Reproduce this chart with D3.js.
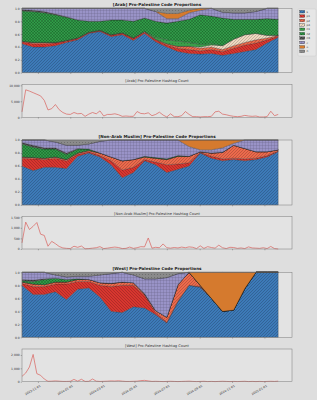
<!DOCTYPE html>
<html>
<head>
<meta charset="utf-8">
<script src="https://cdn.jsdelivr.net/npm/d3@7"></script>
<style>
  body { margin: 0; background: #dedede; }
  text { font-family: "DejaVu Sans", sans-serif; }
</style>
</head>
<body>
<script>
// weekly dates for the hashtag counts
const weeks = ["2023-10-02","2023-10-09","2023-10-16","2023-10-23","2023-10-30","2023-11-06","2023-11-13","2023-11-20","2023-11-27",
  "2023-12-04","2023-12-11","2023-12-18","2023-12-25","2024-01-01","2024-01-08","2024-01-15","2024-01-22","2024-01-29",
  "2024-02-05","2024-02-12","2024-02-19","2024-02-26","2024-03-04","2024-03-11","2024-03-18","2024-03-25","2024-04-01",
  "2024-04-08","2024-04-15","2024-04-22","2024-04-29","2024-05-06","2024-05-13","2024-05-20","2024-05-27","2024-06-03",
  "2024-06-10","2024-06-17","2024-06-24","2024-07-01","2024-07-08","2024-07-15","2024-07-22","2024-07-29","2024-08-05",
  "2024-08-12","2024-08-19","2024-08-26","2024-09-02","2024-09-09","2024-09-16","2024-09-23","2024-09-30","2024-10-07",
  "2024-10-14","2024-10-21","2024-10-28","2024-11-04","2024-11-11","2024-11-18","2024-11-25","2024-12-02","2024-12-09",
  "2024-12-16","2024-12-23","2024-12-30","2025-01-06","2025-01-13","2025-01-20","2025-01-27"];

// dates for the code proportions (every 3rd week)
const propWeeks = ["2023-10-02","2023-10-23","2023-11-13","2023-12-04","2023-12-25","2024-01-15","2024-02-05","2024-02-26",
  "2024-03-18","2024-04-08","2024-04-29","2024-05-20","2024-06-10","2024-07-01","2024-07-22","2024-08-12","2024-09-02",
  "2024-09-23","2024-10-14","2024-11-04","2024-11-25","2024-12-16","2025-01-06","2025-01-27"];

const codes = ["s", "p1", "p2", "p4", "n1", "n2", "n3", "c", "o", "n"];

// proportions, one row per code (same order as codes)
const arabProps = [
  [0.45,0.40,0.40,0.42,0.47,0.51,0.61,0.64,0.56,0.59,0.50,0.61,0.48,0.40,0.33,0.30,0.29,0.30,0.27,0.30,0.33,0.36,0.46,0.55],
  [0.03,0.05,0.05,0.04,0.02,0.02,0.01,0.01,0.02,0.02,0.03,0.02,0.03,0.03,0.05,0.06,0.05,0.06,0.06,0.08,0.10,0.10,0.05,0.02],
  [0.01,0.02,0.02,0.01,0.01,0.01,0.01,0.01,0.01,0.01,0.01,0.01,0.01,0.02,0.03,0.05,0.04,0.04,0.03,0.04,0.04,0.05,0.03,0.01],
  [0,0,0,0,0,0,0,0,0,0,0,0,0,0,0,0,0.02,0.03,0.06,0.10,0.12,0.10,0.04,0],
  [0,0,0,0,0,0,0,0,0,0,0,0,0.03,0.06,0.08,0.06,0.04,0.02,0,0,0,0,0,0],
  [0.47,0.48,0.46,0.43,0.36,0.28,0.17,0.14,0.23,0.20,0.26,0.21,0.25,0.26,0.31,0.36,0.46,0.43,0.43,0.31,0.24,0.22,0.26,0.25],
  [0.02,0.02,0.02,0.01,0.01,0,0,0,0,0,0,0,0,0,0,0,0,0,0,0,0,0,0,0],
  [0.02,0.03,0.05,0.09,0.13,0.18,0.20,0.20,0.18,0.18,0.20,0.15,0.15,0.07,0.04,0.10,0.07,0.12,0.09,0.10,0.10,0.12,0.16,0.17],
  [0,0,0,0,0,0,0,0,0,0,0,0,0,0.08,0.08,0.04,0.03,0,0,0,0,0,0,0],
  [0,0,0,0,0,0,0,0,0,0,0,0,0.05,0.08,0.08,0.03,0,0,0.06,0.07,0.07,0.05,0,0]
];

const namProps = [
  [0.60,0.53,0.58,0.58,0.56,0.75,0.80,0.74,0.62,0.42,0.50,0.68,0.62,0.50,0.55,0.60,0.80,0.72,0.68,0.70,0.68,0.70,0.74,0.82],
  [0.12,0.18,0.12,0.14,0.12,0.03,0.02,0.02,0.06,0.12,0.08,0.02,0.04,0.12,0.08,0.05,0.01,0.03,0.03,0.02,0.03,0.02,0.02,0.01],
  [0.02,0.02,0.02,0.02,0.02,0.02,0.02,0.04,0.06,0.14,0.12,0.04,0.06,0.08,0.12,0.10,0.01,0.05,0.10,0.20,0.16,0.10,0.06,0.02],
  [0,0,0,0,0,0,0,0,0,0,0,0,0,0,0,0,0,0,0,0,0,0,0,0],
  [0,0,0,0,0,0,0,0,0,0,0,0,0,0,0,0,0,0,0,0,0,0,0,0],
  [0.20,0.16,0.14,0.12,0.08,0.06,0.02,0,0,0,0,0.01,0.01,0.01,0.01,0,0,0,0,0,0,0,0,0],
  [0.02,0.03,0.02,0.02,0.02,0.01,0,0,0,0,0,0,0,0,0,0,0,0,0,0,0,0,0,0],
  [0.04,0.08,0.12,0.09,0.12,0.05,0.08,0.18,0.26,0.32,0.30,0.25,0.27,0.29,0.24,0.15,0.03,0.05,0.07,0.03,0.13,0.18,0.18,0.15],
  [0,0,0,0,0,0,0,0,0,0,0,0,0,0,0,0.10,0.15,0.15,0.12,0.05,0,0,0,0],
  [0,0,0,0.03,0.08,0.08,0.06,0.02,0,0,0,0,0,0,0,0,0,0,0,0,0,0,0,0]
];

const westProps = [
  [0.80,0.66,0.66,0.70,0.58,0.74,0.76,0.62,0.40,0.38,0.47,0.45,0.35,0.22,0.55,0.80,0.77,0.60,0.40,0.42,0.75,1.00,1.00,1.00],
  [0.03,0.12,0.12,0.12,0.24,0.12,0.10,0.18,0.38,0.42,0.33,0.20,0.03,0.01,0.01,0,0.01,0,0,0,0,0,0,0],
  [0.02,0.04,0.03,0.03,0.03,0.03,0.03,0.04,0.05,0.05,0.04,0.02,0.03,0.08,0.25,0.20,0.02,0,0,0,0,0,0,0],
  [0,0,0,0,0,0,0,0,0,0,0,0,0,0,0,0,0,0,0,0,0,0,0,0],
  [0,0,0,0,0,0,0,0,0,0,0,0,0,0,0,0,0,0,0,0,0,0,0,0],
  [0.02,0.04,0.08,0.06,0.04,0.01,0,0,0,0,0,0,0,0,0,0,0,0,0,0,0,0,0,0],
  [0.02,0.02,0.01,0,0,0,0,0,0,0,0,0,0,0,0,0,0,0,0,0,0,0,0,0],
  [0.11,0.12,0.10,0.05,0.04,0.04,0.05,0.12,0.15,0.15,0.12,0.23,0.49,0.61,0.17,0,0,0,0,0,0,0,0,0],
  [0,0,0,0,0,0,0,0,0,0,0,0,0,0,0,0,0.20,0.40,0.60,0.58,0.25,0,0,0],
  [0,0,0,0.04,0.07,0.06,0.06,0.04,0.02,0,0.04,0.10,0.10,0.08,0.02,0,0,0,0,0,0,0,0,0]
];

// weekly hashtag counts
const arabCounts = [1700,8600,8200,7700,7200,6700,5300,2300,2700,4000,2400,1500,1000,900,1500,1100,1200,300,1000,1500,
  1100,2000,400,900,900,1100,800,300,400,300,300,1800,1200,1100,1400,500,900,1600,700,100,1100,200,200,500,1800,900,
  200,200,100,200,200,300,1700,1900,1000,800,500,300,200,300,600,400,300,400,100,100,200,1900,500,900];
const namCounts = [290,1270,920,1070,1250,700,640,130,360,250,120,50,30,20,130,80,140,10,20,40,60,110,20,40,70,90,70,
  20,30,90,30,60,110,100,520,40,80,60,240,60,40,70,50,90,60,100,80,20,150,30,110,70,40,180,60,20,80,70,30,50,20,100,
  50,40,30,60,20,120,20,0];
const westCounts = [400,650,1100,2040,600,480,200,30,40,60,40,20,20,30,170,40,180,20,30,200,40,20,30,40,60,50,70,40,20,
  20,30,40,80,100,60,20,30,20,10,20,30,20,10,20,30,40,20,10,20,30,10,20,10,20,30,20,10,20,10,20,30,10,20,10,20,10,
  20,30,20,40];

const groups = ["Arab", "Non-Arab Muslim", "West"];

// styles per code
const codeFill = {s: "#3d7ab8", p1: "#d8362f", p2: "#ec6a4c", p4: "#eed8c0", n1: "#3a9f4a",
  n2: "#2f9a47", n3: "#555555", c: "#9b95c9", o: "#ec8733", n: "#8b8b8b"};
const codeHatch = {s: "/", p1: "\\", p2: "/", p4: "/", n1: ".", n2: "x", n3: "x", c: "o", o: "-", n: "."};

const W = 317, H = 400;
const left = 22, right = 292;
const layout = [
  {prop: [8.3, 72.7], count: [84.3, 117.3]},
  {prop: [140, 205], count: [216.7, 249]},
  {prop: [272.3, 337.3], count: [349, 381.7]}
];

const parse = d3.timeParse("%Y-%m-%d");
const weekDates = weeks.map(parse);
const propDates = propWeeks.map(parse);

const svg = d3.select("body").append("svg").attr("width", W).attr("height", H);
svg.append("rect").attr("width", W).attr("height", H).attr("fill", "#dedede");

// hatch patterns
const defs = svg.append("defs");
codes.forEach(code => {
  const h = codeHatch[code];
  const sz = h === "-" ? 1.8 : 3;
  const p = defs.append("pattern").attr("id", "hatch-" + code)
    .attr("patternUnits", "userSpaceOnUse").attr("width", sz).attr("height", sz);
  p.append("rect").attr("width", sz).attr("height", sz).attr("fill", codeFill[code]);
  const ink = "rgba(0,0,0,0.45)";
  if (h === "/" || h === "x")
    p.append("path").attr("d", "M-0.75,0.75L0.75,-0.75M0,3L3,0M2.25,3.75L3.75,2.25")
      .attr("stroke", ink).attr("stroke-width", 0.4);
  if (h === "\\" || h === "x")
    p.append("path").attr("d", "M-0.75,2.25L0.75,3.75M0,0L3,3M2.25,-0.75L3.75,0.75")
      .attr("stroke", ink).attr("stroke-width", 0.4);
  if (h === "-")
    p.append("path").attr("d", "M0,0.9L1.8,0.9").attr("stroke", ink).attr("stroke-width", 0.4);
  if (h === ".")
    p.append("circle").attr("cx", 1.5).attr("cy", 1.5).attr("r", 0.4).attr("fill", ink);
  if (h === "o")
    p.append("circle").attr("cx", 1.5).attr("cy", 1.5).attr("r", 0.7)
      .attr("fill", "none").attr("stroke", ink).attr("stroke-width", 0.3);
});

const x = d3.scaleTime()
  .domain([parse("2023-10-02"), parse("2025-02-22")])
  .range([left, right]);
const xTicks = d3.timeMonth.every(2).range(parse("2023-10-15"), parse("2025-02-22"));

function frame(g, top, bottom) {
  g.append("rect").attr("x", left).attr("y", top).attr("width", right - left).attr("height", bottom - top)
    .attr("fill", "#e3e3e3");
}
function spines(g, top, bottom) {
  g.append("rect").attr("x", left).attr("y", top).attr("width", right - left).attr("height", bottom - top)
    .attr("fill", "none").attr("stroke", "#7a7a7a").attr("stroke-width", 0.5);
}
function yAxis(g, y, ticks, fmt) {
  const ax = g.append("g").attr("transform", `translate(${left},0)`)
    .call(d3.axisLeft(y).tickValues(ticks).tickFormat(fmt).tickSize(1.3).tickPadding(1));
  ax.select(".domain").remove();
  ax.selectAll("line").attr("stroke", "#555").attr("stroke-width", 0.4);
  ax.selectAll("text").attr("font-size", 3).attr("fill", "#333").attr("font-family", "DejaVu Sans");
}
function xAxis(g, bottom, labels) {
  const ax = g.append("g").attr("transform", `translate(0,${bottom})`)
    .call(d3.axisBottom(x).tickValues(xTicks).tickFormat(labels ? d3.timeFormat("%Y-%m-%d") : "")
      .tickSize(1.3).tickPadding(1));
  ax.select(".domain").remove();
  ax.selectAll("line").attr("stroke", "#555").attr("stroke-width", 0.4);
  if (labels) {
    ax.selectAll("text").attr("font-size", 3).attr("fill", "#333").attr("font-family", "DejaVu Sans")
      .attr("text-anchor", "end").attr("transform", "translate(0,0.5) rotate(-30)")
      .attr("dx", 0).attr("dy", "0.9em");
  }
}

const propSets = [arabProps, namProps, westProps];
const countSets = [arabCounts, namCounts, westCounts];

groups.forEach((grp, gi) => {
  const L = layout[gi];
  // ---- stacked proportions ----
  const g = svg.append("g");
  const [pt, pb] = L.prop;
  frame(g, pt, pb);
  const y = d3.scaleLinear().domain([0, 1]).range([pb, pt]);
  const rows = propDates.map((d, i) => {
    const r = {date: d};
    codes.forEach((c, ci) => r[c] = propSets[gi][ci][i]);
    return r;
  });
  const series = d3.stack().keys(codes)(rows);
  const area = d3.area().x(d => x(d.data.date)).y0(d => y(d[0])).y1(d => y(d[1]));
  g.selectAll("path.layer").data(series).enter().append("path")
    .attr("class", "layer")
    .attr("d", area)
    .attr("fill", d => `url(#hatch-${d.key})`)
    .attr("stroke", "#222").attr("stroke-width", 0.3).attr("stroke-opacity", 0.8);
  spines(g, pt, pb);
  yAxis(g, y, [0, 0.2, 0.4, 0.6, 0.8, 1.0], d3.format(".1f"));
  xAxis(g, pb, false);
  g.append("text").attr("x", (left + right) / 2).attr("y", pt - 2.2)
    .attr("text-anchor", "middle").attr("font-size", 4.1).attr("font-weight", "bold").attr("fill", "#222")
    .text(`[${grp}] Pro-Palestine Code Proportions`);

  // ---- counts ----
  const g2 = svg.append("g");
  const [ct, cb] = L.count;
  frame(g2, ct, cb);
  const counts = countSets[gi];
  const yc = d3.scaleLinear().domain([0, d3.max(counts) * 1.2]).range([cb, ct]);
  const line = d3.line().x((d, i) => x(weekDates[i])).y(d => yc(d));
  g2.append("path").datum(counts).attr("d", line)
    .attr("fill", "none").attr("stroke", "#d9605c").attr("stroke-width", 0.7);
  spines(g2, ct, cb);
  const cTicks = [[0, 5000, 10000], [0, 500, 1000, 1500], [0, 1000, 2000]][gi];
  yAxis(g2, yc, cTicks, d3.format(","));
  xAxis(g2, cb, gi === 2);
  g2.append("text").attr("x", (left + right) / 2).attr("y", ct - 2)
    .attr("text-anchor", "middle").attr("font-size", 3.6).attr("fill", "#333")
    .text(`[${grp}] Pro-Palestine Hashtag Count`);
});

// legend
const lg = svg.append("g");
lg.append("rect").attr("x", 298).attr("y", 9).attr("width", 18).attr("height", 47).attr("rx", 0.8)
  .attr("fill", "#e6e6e6").attr("stroke", "#c4c4c4").attr("stroke-width", 0.4);
const ly = d3.scalePoint().domain(codes).range([11.7, 51.3]);
lg.selectAll("rect.key").data(codes).enter().append("rect").attr("class", "key")
  .attr("x", 299.8).attr("y", d => ly(d) - 1.3).attr("width", 5).attr("height", 2.6)
  .attr("fill", d => `url(#hatch-${d})`).attr("stroke", "#222").attr("stroke-width", 0.3);
lg.selectAll("text.key").data(codes).enter().append("text").attr("class", "key")
  .attr("x", 306.5).attr("y", d => ly(d) + 1).attr("font-size", 2.8).attr("fill", "#333")
  .text(d => d);
</script>
</body>
</html>
